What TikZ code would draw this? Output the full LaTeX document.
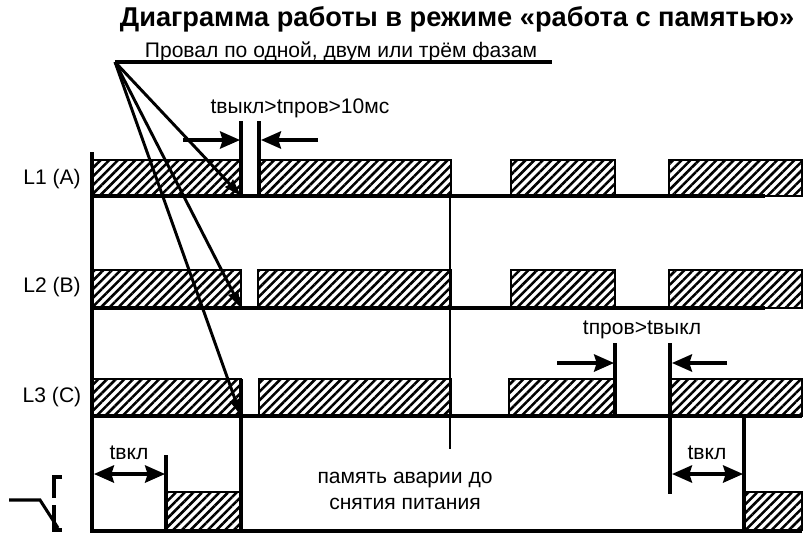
\documentclass[tikz,border=0pt]{standalone}
\usepackage{fontspec}
\setmainfont{Liberation Sans}
\usepackage{xcolor}
\usepackage{tikz}
\usetikzlibrary{arrows.meta,patterns.meta}
\definecolor{Ink}{HTML}{000000}
\begin{document}
\begin{tikzpicture}[x=0.75pt, y=-0.75pt, font=\fontsize{15.8}{19}\selectfont]
\tikzset{bar/.style={draw=Ink, line width=1.8pt, pattern={Lines[angle=45,distance=4.6pt,line width=1.9pt]}, pattern color=Ink}, axis/.style={draw=Ink, line width=3pt}, tick/.style={draw=Ink, line width=2.3pt}, thintick/.style={draw=Ink, line width=1.5pt}, dim/.style={draw=Ink, line width=2.3pt, -{Stealth[length=15pt,width=13pt,inset=2pt]}}, dimboth/.style={draw=Ink, line width=2.3pt, {Stealth[length=15pt,width=13pt,inset=2pt]}-{Stealth[length=15pt,width=13pt,inset=2pt]}}, lead/.style={draw=Ink, line width=2.2pt, -{Stealth[length=13pt,width=8pt,inset=1pt]}}, lab/.style={text=Ink, inner sep=0pt}}
\useasboundingbox (0,0) rectangle (812,547);
% bars
\foreach \ytop/\ybase/\xa/\xb/\xc in {160/196/259/511/669, 270/308/258/511/669, 379/416/259/509/670} {
  \draw[bar] (93,\ytop) rectangle (241,\ybase);
  \draw[bar] (\xa,\ytop) rectangle (451,\ybase);
  \draw[bar] (\xb,\ytop) rectangle (615,\ybase);
  \draw[bar] (\xc,\ytop) rectangle (802,\ybase);
}
\draw[bar] (166,492) rectangle (241,530);
\draw[bar] (745,492) rectangle (802,530);
% axes
\draw[axis] (92,152) -- (92,531) -- (802,531);
\draw[axis] (92,196) -- (765,196);
\draw[axis] (92,308) -- (765,308);
\draw[axis] (92,416) -- (802,416);
% verticals
\draw[tick] (241,121) -- (241,196);
\draw[tick] (259,121) -- (259,196);
\draw[tick] (241,379) -- (241,530);
\draw[thintick] (450,196) -- (450,449);
\draw[tick] (615,343) -- (615,416);
\draw[tick] (670,343) -- (670,494);
\draw[tick] (744,416) -- (744,530);
\draw[tick] (166,455) -- (166,530);
% leader
\coordinate (hub) at (115,62);
\coordinate (gapA) at (241,196);
\coordinate (gapB) at (241,308);
\coordinate (gapC) at (241,416);
\coordinate (leadEnd) at (552,62);
\draw[tick] (hub) -- (leadEnd);
\draw[lead] (hub) -- (gapA);
\draw[lead] (hub) -- (gapB);
\draw[lead] (hub) -- (gapC);
% dimension arrows
\coordinate (offLa) at (183,140);
\coordinate (offLb) at (240,140);
\coordinate (offRa) at (318,140);
\coordinate (offRb) at (261,140);
\draw[dim] (offLa) -- (offLb);
\draw[dim] (offRa) -- (offRb);
\coordinate (dipLa) at (557,363);
\coordinate (dipLb) at (614,363);
\coordinate (dipRa) at (727,363);
\coordinate (dipRb) at (672,363);
\draw[dim] (dipLa) -- (dipLb);
\draw[dim] (dipRa) -- (dipRb);
\coordinate (onLa) at (94,474);
\coordinate (onLb) at (165,474);
\coordinate (onRa) at (672,474);
\coordinate (onRb) at (743,474);
\draw[dimboth] (onLa) -- (onLb);
\draw[dimboth] (onRa) -- (onRb);
% relay symbol
\draw[tick] (9,500) -- (40,500) -- (58,528);
\draw[tick] (62,477) -- (54,477) -- (54,498);
\draw[tick] (54,505) -- (54,530) -- (62,530);
% labels
\node[lab, font=\fontsize{20.4}{24}\selectfont\bfseries] (title) at (457,19) {Диаграмма работы в режиме «работа с памятью»};
\node[lab] (dip) at (341,52) {Провал по одной, двум или трём фазам};
\node[lab] (offtime) at (300,108) {tвыкл>tпров>10мс};
\node[lab] (diptime) at (642,330) {tпров>tвыкл};
\node[lab] (onA) at (129,453) {tвкл};
\node[lab] (onB) at (707,453) {tвкл};
\node[lab] (phaseA) at (52,179) {L1 (A)};
\node[lab] (phaseB) at (52,287) {L2 (B)};
\node[lab] (phaseC) at (52,397) {L3 (C)};
\node[lab, align=center] (memory) at (405,491) {память аварии до\\снятия питания};
\end{tikzpicture}
\end{document}
